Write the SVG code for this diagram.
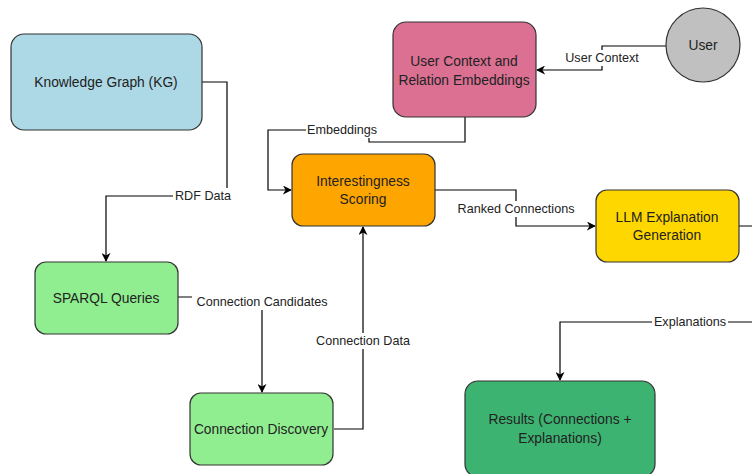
<svg xmlns="http://www.w3.org/2000/svg" width="752" height="474" viewBox="0 0 752 474">
<style>
.n{stroke:#333;stroke-width:1.2}
.t{font-family:"Liberation Sans",Arial,sans-serif;font-size:13.8px;fill:#222;text-anchor:middle}
.l{font-family:"Liberation Sans",Arial,sans-serif;font-size:12.6px;fill:#222;text-anchor:middle}
.c{fill:none;stroke:#000;stroke-width:1.2}
.bg{fill:#fff}
</style>
<defs>
<marker id="a" viewBox="0 0 10 10" refX="9" refY="5" markerWidth="9" markerHeight="9" markerUnits="userSpaceOnUse" orient="auto">
<path d="M0,0 L10,5 L0,10 L3,5 Z" fill="#000"/>
</marker>
</defs>
<rect width="752" height="474" fill="#fff"/>
<g id="connectors">
<path class="c" d="M202,82 H227 V196 H106 V261" marker-end="url(#a)"/>
<rect class="bg" x="173" y="188" width="60" height="16"/>
<text class="l" x="203" y="200">RDF Data</text>
<path class="c" d="M666,46 H602 V70 H537" marker-end="url(#a)"/>
<rect class="bg" x="563" y="50" width="78" height="16"/>
<text class="l" x="602" y="62">User Context</text>
<path class="c" d="M465,117 V142 H369 V130 H268 V190 H291" marker-end="url(#a)"/>
<rect class="bg" x="306" y="122" width="72" height="16"/>
<text class="l" x="342" y="134">Embeddings</text>
<path class="c" d="M435,190 H516 V226 H595" marker-end="url(#a)"/>
<rect class="bg" x="455" y="201" width="122" height="16"/>
<text class="l" x="516" y="213">Ranked Connections</text>
<path class="c" d="M739,226 H760 M752,322 H560 V380" marker-end="url(#a)"/>
<rect class="bg" x="652" y="314" width="76" height="16"/>
<text class="l" x="690" y="326">Explanations</text>
<path class="c" d="M178,297 H262 V392" marker-end="url(#a)"/>
<rect class="bg" x="192" y="294" width="140" height="16"/>
<text class="l" x="262" y="306">Connection Candidates</text>
<path class="c" d="M334,429 H363 V227" marker-end="url(#a)"/>
<rect class="bg" x="313" y="333" width="100" height="16"/>
<text class="l" x="363" y="345">Connection Data</text>
</g>
<g id="kg">
<rect class="n" x="11" y="34" width="191" height="96" rx="13" fill="#ADD8E6"/>
<text class="t" x="106" y="87">Knowledge Graph (KG)</text>
</g>
<g id="user-context">
<rect class="n" x="393" y="22" width="143" height="95" rx="13" fill="#DB7093"/>
<text class="t" x="464" y="66">User Context and</text>
<text class="t" x="464" y="85">Relation Embeddings</text>
</g>
<g id="user">
<circle class="n" cx="703" cy="45" r="37" fill="#C0C0C0"/>
<text class="t" x="703" y="50">User</text>
</g>
<g id="scoring">
<rect class="n" x="292" y="154" width="143" height="72" rx="11" fill="#FFA500"/>
<text class="t" x="363" y="186">Interestingness</text>
<text class="t" x="363" y="204">Scoring</text>
</g>
<g id="llm">
<rect class="n" x="596" y="190" width="143" height="72" rx="11" fill="#FFD700"/>
<text class="t" x="667" y="222">LLM Explanation</text>
<text class="t" x="667" y="240">Generation</text>
</g>
<g id="sparql">
<rect class="n" x="35" y="262" width="143" height="72" rx="11" fill="#90EE90"/>
<text class="t" x="106" y="303">SPARQL Queries</text>
</g>
<g id="discovery">
<rect class="n" x="190" y="393" width="143" height="72" rx="11" fill="#90EE90"/>
<text class="t" x="261" y="434">Connection Discovery</text>
</g>
<g id="results">
<rect class="n" x="465" y="381" width="190" height="96" rx="13" fill="#3CB371"/>
<text class="t" x="560" y="424">Results (Connections +</text>
<text class="t" x="560" y="443">Explanations)</text>
</g>
</svg>
